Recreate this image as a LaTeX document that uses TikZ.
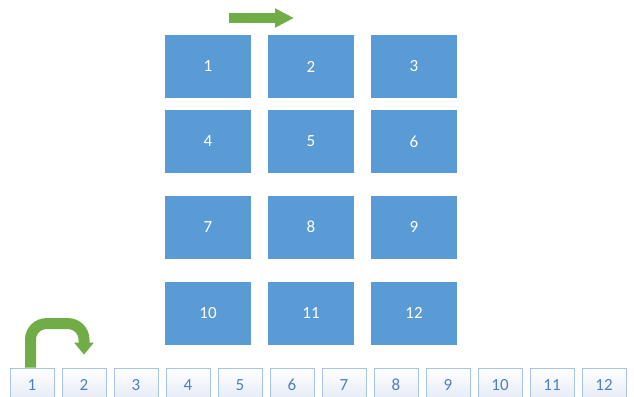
\documentclass[tikz,border=0pt]{standalone}
\usepackage{fontspec}
\setmainfont{Carlito}
\usetikzlibrary{arrows.meta}
\definecolor{cTile}{RGB}{91,155,213}
\definecolor{cSlot}{RGB}{168,196,228}
\definecolor{cSlotTxt}{RGB}{79,129,189}
\definecolor{cSlotBot}{RGB}{226,233,245}
\definecolor{cMove}{RGB}{112,173,71}

\begin{document}
\begin{tikzpicture}[
  x=1pt, y=-1pt,
  font=\fontsize{17}{20}\selectfont,
  tile/.style  = {fill=cTile, text=white, minimum width=86pt,
                  minimum height=63pt, inner sep=0pt},
  slot/.style  = {draw=cSlot, line width=0.8pt, top color=white,
                  bottom color=cSlotBot, text=cSlotTxt,
                  minimum width=44pt, minimum height=34pt, inner sep=0pt},
  move/.style  = {draw=cMove, line width=10pt,
                  -{Triangle[width=18pt, length=19pt]}},
  turn/.style  = {draw=cMove, line width=11pt, rounded corners=16pt,
                  -{Triangle[width=19pt, length=12pt]}}
]
\useasboundingbox (0,0) rectangle (634,396);
\clip (0,0) rectangle (634,396);

% ------------------------------------------------------------ the 4x3 grid --
\foreach \r/\y in {0/66.5, 1/141.5, 2/227, 3/313} {
  \foreach \c/\x in {1/208, 2/311, 3/414} {
    \pgfmathtruncatemacro{\n}{3*\r+\c}
    \node[tile] (b\n) at (\x,\y) {\n};
  }
}

% ----------------------------------------------------- the row of 12 slots --
\foreach \i in {1,...,12} {
  \node[slot] (s\i) at ({32+52*(\i-1)}, 385) {\i};
}

% ------------------------------------------------------------------ arrows --
\coordinate (mvA) at (229,18);
\coordinate (mvB) at (294,18);
\draw[move] (mvA) -- (mvB);

\draw[turn] ([xshift=-1.5pt]s1.north) |- ([yshift=44pt]s2.north)
            -- ([yshift=13pt]s2.north);

\end{tikzpicture}
\end{document}
